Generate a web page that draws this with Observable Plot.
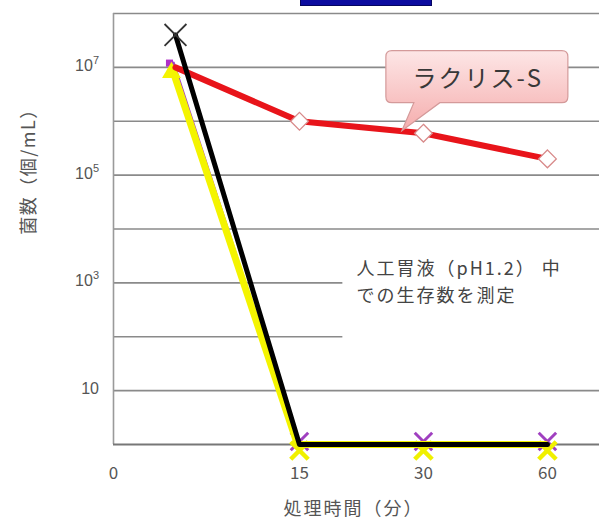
<!DOCTYPE html>
<html>
<head>
<meta charset="utf-8">
<script src="https://cdn.jsdelivr.net/npm/d3@7"></script>
<script src="https://cdn.jsdelivr.net/npm/@observablehq/plot@0.6"></script>
<style>
  body { margin: 0; background: #fff; }
  #wrap { position: relative; width: 599px; height: 518px; overflow: hidden; }
  #titlebox { position: absolute; left: 300px; top: -2px; width: 130px; height: 6px; background: #0c0ca0; border: 1px solid #050560; }
</style>
</head>
<body>
<div id="wrap"><div id="titlebox"></div></div>
<script>
// ---- data ----
const times = [0, 15, 30, 60];                 // 処理時間（分）
const xTickLabels = ["0", "15", "30", "60"];
const lacrisS = [1e7, 1e6, 6e5, 2e5];          // ラクリス-S (red)
const seriesBlack = [4e7, 1, 1, 1];
const seriesYellow = [8e6, 1, 1, 1];
const seriesPurple = [1.2e7, 1, 1, 1];
const yTickValues = [10, 1e3, 1e5, 1e7];
const yTickBase = ["10", "10", "10", "10"];
const yTickExp = ["", "3", "5", "7"];
const gridValues = [10, 1e2, 1e3, 1e4, 1e5, 1e6, 1e7, 1e8];
const calloutLabel = "ラクリス-S";
const noteText = "人工胃液（pH1.2） 中\nでの生存数を測定";
const xTitle = "処理時間（分）";
const yTitle = "菌数（個/mL）";

const toRows = (vals) => vals.map((v, i) => ({i, t: times[i], v}));
const red = toRows(lacrisS), blk = toRows(seriesBlack), yel = toRows(seriesYellow), pur = toRows(seriesPurple);
const tail = (rows) => rows.slice(1);
const xTicks = xTickLabels.map((l, i) => ({pos: i === 0 ? -0.5 : i, label: l}));

const font = "'Noto Sans CJK JP', 'Noto Sans', sans-serif";
const plot = Plot.plot({
  width: 599, height: 518,
  marginLeft: 113, marginRight: 0, marginTop: 13, marginBottom: 74,
  x: {type: "linear", domain: [-0.5, 3.42], axis: null},
  y: {type: "log", domain: [1, 1e8], axis: null},
  style: {fontFamily: font, background: "transparent", overflow: "visible"},
  marks: [
    Plot.ruleY(gridValues, {stroke: "#8a8a8a", strokeWidth: 1.6}),
    Plot.rect([0], {x1: 1.35, x2: 3.42, y1: 10 ** 1.8, y2: 10 ** 3.3, fill: "white"}),
    Plot.ruleX([-0.5], {stroke: "#9a9a9a", strokeWidth: 1.6}),
    Plot.ruleY([1], {stroke: "#777", strokeWidth: 2}),
    // purple series
    Plot.line(pur, {x: "i", y: "v", stroke: "#a040c0", strokeWidth: 3, dx: -2}),
    Plot.dot(pur.slice(0, 1), {x: "i", y: "v", symbol: "square", r: 4, fill: "#b030c8", dx: -6}),
    Plot.dot(tail(pur), {x: "i", y: "v", symbol: "times", r: 8, stroke: "#a040c0", strokeWidth: 3, dy: -3}),
    // yellow series
    Plot.line(yel, {x: "i", y: "v", stroke: "#f4f400", strokeWidth: 7, dx: -2}),
    Plot.dot(yel.slice(0, 1), {x: "i", y: "v", symbol: "triangle", r: 7, fill: "#f4f400", dx: -4}),
    Plot.dot(tail(yel), {x: "i", y: "v", symbol: "times", r: 8, stroke: "#f0f000", strokeWidth: 4.5, dy: 6}),
    // red series
    Plot.line(red, {x: "i", y: "v", stroke: "#e8141a", strokeWidth: 6}),
    Plot.dot(tail(red), {x: "i", y: "v", symbol: "diamond2", r: 8, fill: "white", stroke: "#d88a8a", strokeWidth: 1.3}),
    // black series
    Plot.line(blk, {x: "i", y: "v", stroke: "#000", strokeWidth: 5}),
    Plot.dot(blk.slice(0, 1), {x: "i", y: "v", symbol: "times", r: 10, stroke: "#333", strokeWidth: 1.8}),
    // x tick labels
    Plot.text(xTicks, {x: "pos", y: 1, text: "label", dy: 29, fontSize: 17, fill: "#555"}),
    // x title
    Plot.text([xTitle], {frameAnchor: "bottom", dx: -3, dy: 70, fontSize: 18, fill: "#555"}),
    // note
    Plot.text([noteText], {x: 1.46, y: 10 ** 3.05, text: d => d, textAnchor: "start", lineAnchor: "middle", lineHeight: 1.45, fontSize: 18, fill: "#444"})
  ]
});
document.getElementById("wrap").prepend(plot);

const svg = d3.select(plot);
const sx = plot.scale("x"), sy = plot.scale("y");
svg.selectAll("text").filter(function () { return this.textContent.includes("生存数") || this.textContent.includes("処理"); })
  .style("letter-spacing", "2px");

// y tick labels with superscript exponents, positioned by the y scale
yTickValues.forEach((v, i) => {
  const t = svg.append("text").attr("x", sx.apply(-0.5) - 14).attr("y", sy.apply(v)).attr("text-anchor", "end")
    .attr("dominant-baseline", "middle").attr("font-family", "'Liberation Sans', Arial, sans-serif")
    .attr("font-size", 16).attr("fill", "#555");
  t.append("tspan").text(yTickBase[i]);
  if (yTickExp[i]) t.append("tspan").attr("font-size", 11).attr("dy", -6).text(yTickExp[i]);
});

// y title
svg.append("text").attr("transform", "translate(30,167) rotate(-90)")
  .attr("text-anchor", "middle").attr("dominant-baseline", "middle")
  .attr("font-family", font).attr("font-size", 18).attr("fill", "#555")
  .style("letter-spacing", "1.5px").text(yTitle);

// ---- callout anchored to the red line ----
const tPos = 1.83;
const logv = Math.log10(lacrisS[1]) + (tPos - 1) * (Math.log10(lacrisS[2]) - Math.log10(lacrisS[1]));
const tx = sx.apply(tPos), ty = sy.apply(10 ** logv);
const defs = svg.append("defs");
const grad = defs.append("linearGradient").attr("id", "cg").attr("x1", 0).attr("y1", 0).attr("x2", 0).attr("y2", 1);
grad.append("stop").attr("offset", "0%").attr("stop-color", "#fde6e6");
grad.append("stop").attr("offset", "100%").attr("stop-color", "#f5adad");
const bx0 = tx - 16, bx1 = tx + 166, by0 = ty - 80, by1 = ty - 28, r = 6;
const p = `M${bx0 + r},${by0} H${bx1 - r} Q${bx1},${by0} ${bx1},${by0 + r} V${by1 - r} Q${bx1},${by1} ${bx1 - r},${by1} H${tx + 38} L${tx},${ty} L${tx + 12},${by1} H${bx0 + r} Q${bx0},${by1} ${bx0},${by1 - r} V${by0 + r} Q${bx0},${by0} ${bx0 + r},${by0} Z`;
svg.append("path").attr("d", p).attr("fill", "url(#cg)").attr("stroke", "#d49a9a").attr("stroke-width", 1.2);
svg.append("text").attr("x", tx + 76).attr("y", ty - 50).attr("text-anchor", "middle").attr("dominant-baseline", "middle")
  .attr("font-family", font).attr("font-size", 24).attr("fill", "#383838").style("letter-spacing", "2px").text(calloutLabel);
</script>
</body>
</html>
